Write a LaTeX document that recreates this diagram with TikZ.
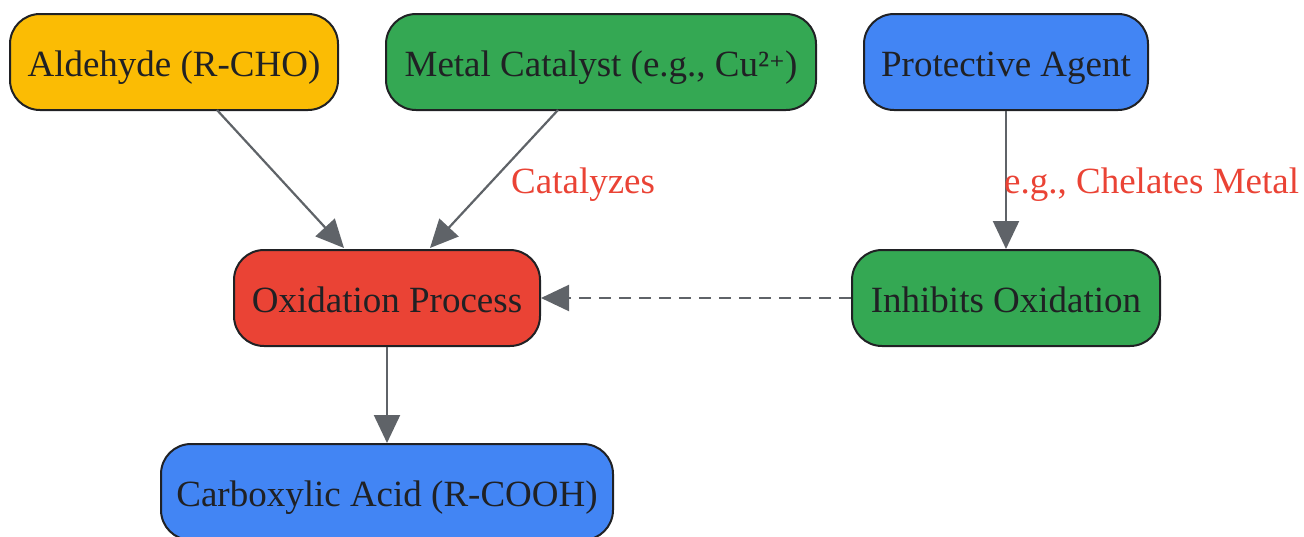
\documentclass[tikz,border=0pt]{standalone}
\usepackage{fontspec}
\setmainfont{Liberation Serif}
\newfontfamily\dvserif{DejaVu Serif}
\usetikzlibrary{arrows.meta}
\definecolor{cyellow}{HTML}{FBBC04}
\definecolor{cgreen}{HTML}{34A853}
\definecolor{cblue}{HTML}{4285F4}
\definecolor{cred}{HTML}{EA4335}
\definecolor{cedge}{HTML}{5F6368}
\definecolor{ctext}{HTML}{202124}
\definecolor{cborder}{HTML}{202124}
\tikzset{
  box/.style={draw=cborder, line width=2pt, rounded corners=30pt, minimum height=96pt,
    inner sep=0pt, text height=30pt, text depth=2pt, text=ctext, font=\fontsize{37}{44}\selectfont},
  conn/.style={draw=cedge, line width=2.2pt, -{Triangle[length=28pt,width=26pt]}},
  lbl/.style={text=cred, font=\fontsize{37}{44}\selectfont, inner sep=0pt, anchor=base west}
}
\begin{document}
\begin{tikzpicture}[x=1pt,y=-1pt]
\useasboundingbox (0,0) rectangle (1304,536);
\node[box, fill=cyellow, minimum width=328pt] (ald) at (174,62) {Aldehyde (R-CHO)};
\node[box, fill=cgreen, minimum width=430pt] (met) at (601,62) {Metal Catalyst (e.g., Cu²{\dvserif\fontsize{30}{36}\selectfont ⁺})};
\node[box, fill=cblue, minimum width=284pt] (pro) at (1006,62) {Protective Agent};
\node[box, fill=cred, minimum width=306pt] (oxi) at (387,298) {Oxidation Process};
\node[box, fill=cgreen, minimum width=308pt] (inh) at (1006,298) {Inhibits Oxidation};
\node[box, fill=cblue, minimum width=452pt] (car) at (387,492) {Carboxylic Acid (R-COOH)};
\coordinate (a1) at (217,110);
\coordinate (a2) at (344,248);
\coordinate (m1) at (558,110);
\coordinate (m2) at (430,248);
\draw[conn] (a1) -- (a2);
\draw[conn] (m1) -- (m2);
\node[lbl] (lcat) at (511,193) {Catalyzes};
\draw[conn] (pro) -- (inh);
\node[lbl] (lche) at (1004,193) {e.g., Chelates Metal};
\draw[conn, dash pattern=on 12pt off 8pt] (inh) -- (oxi);
\draw[conn] (oxi) -- (car);
\end{tikzpicture}
\end{document}
